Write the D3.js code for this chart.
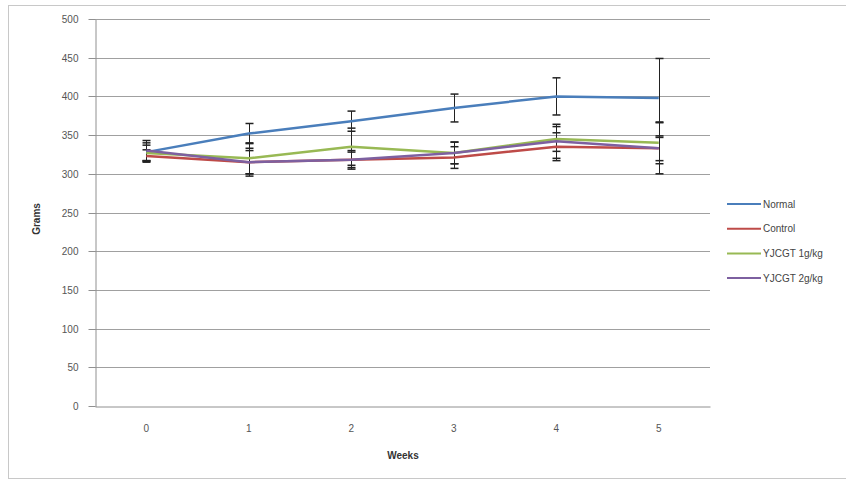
<!DOCTYPE html>
<html>
<head>
<meta charset="utf-8">
<script src="https://cdn.jsdelivr.net/npm/d3@7"></script>
<style>
	body { margin: 0; background: #fff; }
	text { font-family: "Liberation Sans", "DejaVu Sans", sans-serif; }
</style>
</head>
<body>
<div id="chart"></div>
<script>
	// data
	const weeks = ['0', '1', '2', '3', '4', '5'];
	const yTicks = [0, 50, 100, 150, 200, 250, 300, 350, 400, 450, 500];
	const seriesNames = ['Normal', 'Control', 'YJCGT 1g/kg', 'YJCGT 2g/kg'];
	const seriesColors = ['#4a7ebb', '#be4b48', '#98b954', '#7d60a0'];
	const normal = [328, 352, 368, 385, 400, 398];
	const normalErr = [12, 13, 13, 18, 24, 51];
	const control = [323, 315, 318, 321, 335, 333];
	const controlErr = [8, 15, 12, 14, 18, 33];
	const yjcgt1 = [327, 320, 335, 327, 345, 340];
	const yjcgt1Err = [10, 20, 24, 14, 16, 27];
	const yjcgt2 = [330, 315, 318, 327, 342, 333];
	const yjcgt2Err = [13, 18, 10, 14, 22, 16];

	const values = [normal, control, yjcgt1, yjcgt2];
	const errors = [normalErr, controlErr, yjcgt1Err, yjcgt2Err];

	const width = 846;
	const height = 480;
	const plot = { left: 95, right: 710, top: 19, bottom: 406 };

	const svg = d3.select('#chart').append('svg')
		.attr('width', width)
		.attr('height', height);

	// outer frame
	svg.append('rect')
		.attr('x', 8.5).attr('y', 5.5)
		.attr('width', 850).attr('height', 473)
		.style('fill', 'none')
		.style('stroke', '#c8c8c8');

	const x = d3.scaleBand()
		.domain(weeks)
		.range([plot.left, plot.right]);
	const y = d3.scaleLinear()
		.domain([0, 500])
		.range([plot.bottom, plot.top]);

	// gridlines
	svg.append('g')
		.selectAll('line')
			.data(yTicks.slice(1))
			.enter().append('line')
				.attr('x1', plot.left).attr('x2', plot.right)
				.attr('y1', d => Math.round(y(d)) + 0.5)
				.attr('y2', d => Math.round(y(d)) + 0.5)
				.style('stroke', '#a0a0a0');

	// y axis
	const yAxis = svg.append('g')
		.attr('transform', `translate(${plot.left + 0.5}, 0.5)`)
		.call(d3.axisLeft(y).tickValues(yTicks).tickSize(7).tickPadding(10).tickSizeOuter(0));
	yAxis.select('.domain').style('stroke', '#909090');
	yAxis.selectAll('.tick line').style('stroke', '#909090');
	yAxis.selectAll('.tick text')
		.style('font-size', '10px')
		.style('fill', '#555');
	yAxis.selectAll('.tick').attr('transform', d => `translate(0, ${Math.round(y(d))})`);

	// x axis line
	const xAxis = svg.append('g')
		.attr('transform', `translate(0, ${plot.bottom + 0.5})`)
		.call(d3.axisBottom(x).tickSize(0).tickPadding(18));
	xAxis.select('.domain').style('stroke', '#909090');
	xAxis.selectAll('.tick text')
		.style('font-size', '10px')
		.style('fill', '#555');

	// axis titles
	svg.append('text')
		.attr('transform', 'translate(40, 219) rotate(-90)')
		.attr('text-anchor', 'middle')
		.style('font-size', '10px')
		.style('font-weight', 'bold')
		.style('fill', '#333')
		.text('Grams');
	svg.append('text')
		.attr('x', 403).attr('y', 459)
		.attr('text-anchor', 'middle')
		.style('font-size', '10px')
		.style('font-weight', 'bold')
		.style('fill', '#333')
		.text('Weeks');

	const cx = d => x(d) + x.bandwidth() / 2;

	// error bars
	const errG = svg.append('g').attr('class', 'errors');
	values.forEach((vals, s) => {
		vals.forEach((v, i) => {
			const px = Math.round(cx(weeks[i])) + 0.5;
			const top = y(v + errors[s][i]);
			const bot = y(v - errors[s][i]);
			errG.append('line')
				.attr('x1', px).attr('x2', px)
				.attr('y1', top).attr('y2', bot)
				.style('stroke', '#222').style('stroke-width', 1);
			[top, bot].forEach(yy => {
				errG.append('line')
					.attr('x1', px - 4).attr('x2', px + 4)
					.attr('y1', yy).attr('y2', yy)
					.style('stroke', '#222').style('stroke-width', 1.5);
			});
		});
	});

	// lines
	const line = d3.line()
		.x((d, i) => cx(weeks[i]))
		.y(d => y(d));
	svg.append('g')
		.selectAll('path')
			.data(values)
			.enter().append('path')
				.attr('d', line)
				.style('fill', 'none')
				.style('stroke', (d, i) => seriesColors[i])
				.style('stroke-width', 2.5)
				.style('stroke-linejoin', 'round');

	// legend
	const legend = svg.append('g')
		.selectAll('g')
			.data(seriesNames)
			.enter().append('g')
				.attr('transform', (d, i) => `translate(727, ${204 + i * 24.7})`);
	legend.append('line')
		.attr('x1', 0).attr('x2', 34)
		.style('stroke', (d, i) => seriesColors[i])
		.style('stroke-width', 2);
	legend.append('text')
		.attr('x', 36).attr('y', 3.5)
		.style('font-size', '10px')
		.style('fill', '#444')
		.text(d => d);
</script>
</body>
</html>
